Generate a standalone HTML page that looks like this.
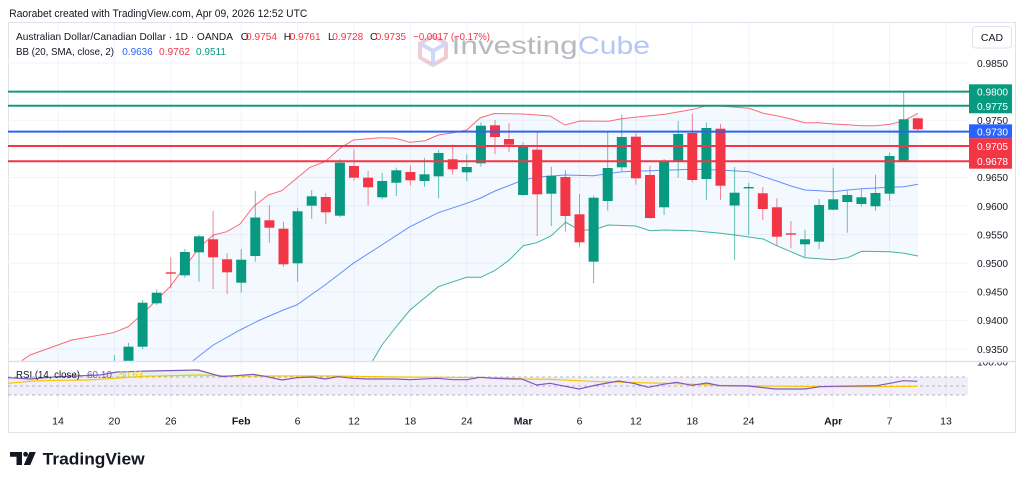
<!DOCTYPE html>
<html><head><meta charset="utf-8"><style>
html,body{margin:0;padding:0;background:#fff;width:1024px;height:484px;overflow:hidden}
svg{display:block}
text{font-family:"Liberation Sans",sans-serif}
</style></head><body>
<svg width="1024" height="484" viewBox="0 0 1024 484" xmlns="http://www.w3.org/2000/svg">
<defs>
<clipPath id="cm"><rect x="8" y="23" width="960" height="338.5"/></clipPath>
<clipPath id="cr"><rect x="8" y="362.5" width="960" height="46"/></clipPath>
<clipPath id="cl"><rect x="968" y="362.5" width="48" height="20"/></clipPath>
</defs>
<text x="9.3" y="17" font-size="11" fill="#131722" textLength="298" lengthAdjust="spacingAndGlyphs">Raorabet created with TradingView.com, Apr 09, 2026 12:52 UTC</text>
<rect x="8.5" y="22.5" width="1007" height="410" fill="none" stroke="#e0e3eb"/>
<g stroke="#f0f3fa" stroke-width="1">
<line x1="58" y1="23" x2="58" y2="408"/><line x1="114.4" y1="23" x2="114.4" y2="408"/><line x1="170.8" y1="23" x2="170.8" y2="408"/><line x1="241.2" y1="23" x2="241.2" y2="408"/><line x1="297.6" y1="23" x2="297.6" y2="408"/><line x1="354" y1="23" x2="354" y2="408"/><line x1="410.4" y1="23" x2="410.4" y2="408"/><line x1="466.8" y1="23" x2="466.8" y2="408"/><line x1="523.1" y1="23" x2="523.1" y2="408"/><line x1="579.5" y1="23" x2="579.5" y2="408"/><line x1="635.9" y1="23" x2="635.9" y2="408"/><line x1="692.3" y1="23" x2="692.3" y2="408"/><line x1="748.7" y1="23" x2="748.7" y2="408"/><line x1="833.2" y1="23" x2="833.2" y2="408"/><line x1="889.6" y1="23" x2="889.6" y2="408"/><line x1="946" y1="23" x2="946" y2="408"/>
<line x1="8" y1="63" x2="968" y2="63"/><line x1="8" y1="91.6" x2="968" y2="91.6"/><line x1="8" y1="120.2" x2="968" y2="120.2"/><line x1="8" y1="148.8" x2="968" y2="148.8"/><line x1="8" y1="177.4" x2="968" y2="177.4"/><line x1="8" y1="206" x2="968" y2="206"/><line x1="8" y1="234.6" x2="968" y2="234.6"/><line x1="8" y1="263.2" x2="968" y2="263.2"/><line x1="8" y1="291.8" x2="968" y2="291.8"/><line x1="8" y1="320.4" x2="968" y2="320.4"/><line x1="8" y1="349" x2="968" y2="349"/>
</g>
<!-- watermark -->
<g opacity="0.55">
<polygon points="433,36 446,43.5 446,57.5 433,65 420,57.5 420,43.5" fill="none" stroke="#e6a3b4" stroke-width="4" stroke-linejoin="round"/>
<polyline points="420,43.5 433,51 446,43.5" fill="none" stroke="#a9b8f0" stroke-width="4"/>
<line x1="433" y1="51" x2="433" y2="65" stroke="#a9b8f0" stroke-width="4"/>
</g>
<text x="451.7" y="54" font-size="25" fill="#b9b9bd" textLength="126" lengthAdjust="spacingAndGlyphs">Investing</text>
<text x="578" y="54" font-size="25" fill="#b3c7f7" textLength="72" lengthAdjust="spacingAndGlyphs">Cube</text>
<g clip-path="url(#cm)">
<polygon fill="#2196f3" fill-opacity="0.055" points="21.7,360.7 30,355 71.7,340 113.3,332.7 128.3,326.7 143.3,313 156.7,300 170,286.7 185,266.7 200,246.7 213.3,235 226.7,231.7 240,224 253.3,206.7 268.3,195 281.7,190.7 296.7,178.3 310,167.3 325,161.7 340,148.3 353.3,140 380,137.7 395,138.3 410,142.3 425,140.7 438.3,135 453.3,132.7 466.7,130 480,118 494,113.5 523.3,114 550,116 565,125 580,121 608.3,121.3 621.7,118.7 650,115.7 665,114.3 693.3,109.3 706.7,105.7 720,106 749.3,108.3 763.3,113.3 776.7,115.7 791,119 805,122.7 819,122.7 833.3,124 847.7,124.7 861.7,125.7 875.7,125.7 890,124.3 904,120.7 918,113.3 918,256 904,253.3 890,251.7 861.7,251.3 847.7,257.7 833.3,259.7 819,258.7 805,257.7 791,251.7 776.7,245.7 763.3,239 734.7,235 720.7,233.3 693.3,230.7 664.3,230 650,230.7 635.7,226 608,225 593.7,230 579.3,230 565.7,222.3 551,236 536.7,242.7 523.3,245.7 509.3,260 495,270.5 480.7,277.3 466.7,277.3 453.3,281.7 438.3,286.7 424.3,298.3 410,310 396,327 382,345 372,362 21.7,362"/>
<polyline fill="none" stroke="#f7525f" stroke-opacity="0.85" stroke-width="1" points="21.7,360.7 30,355 71.7,340 113.3,332.7 128.3,326.7 143.3,313 156.7,300 170,286.7 185,266.7 200,246.7 213.3,235 226.7,231.7 240,224 253.3,206.7 268.3,195 281.7,190.7 296.7,178.3 310,167.3 325,161.7 340,148.3 353.3,140 380,137.7 395,138.3 410,142.3 425,140.7 438.3,135 453.3,132.7 466.7,130 480,118 494,113.5 523.3,114 550,116 565,125 580,121 608.3,121.3 621.7,118.7 650,115.7 665,114.3 693.3,109.3 706.7,105.7 720,106 749.3,108.3 763.3,113.3 776.7,115.7 791,119 805,122.7 819,122.7 833.3,124 847.7,124.7 861.7,125.7 875.7,125.7 890,124.3 904,120.7 918,113.3"/>
<polyline fill="none" stroke="#2962ff" stroke-opacity="0.7" stroke-width="1" points="192.7,361 213.3,345 240,330 260,320 283.3,310 296.7,305 325,285 353.3,263.3 381.7,245 410,226.7 438.3,212.7 466.7,203.3 480.7,198 495,191 523.3,180 536.7,177.3 565,175 593.3,175.7 621.7,171.7 650,170.7 693.3,169.3 720,170 749.3,171.7 763.3,176.7 776.7,181 791,186 805,190 819,190.7 833.3,191.7 847.7,190 861.7,188.7 890,187.3 904,186.7 918,184.3"/>
<polyline fill="none" stroke="#089981" stroke-opacity="0.75" stroke-width="1" points="372,362 382,345 396,327 410,310 424.3,298.3 438.3,286.7 453.3,281.7 466.7,277.3 480.7,277.3 495,270.5 509.3,260 523.3,245.7 536.7,242.7 551,236 565.7,222.3 579.3,230 593.7,230 608,225 635.7,226 650,230.7 664.3,230 693.3,230.7 720.7,233.3 734.7,235 763.3,239 776.7,245.7 791,251.7 805,257.7 819,258.7 833.3,259.7 847.7,257.7 861.7,251.3 890,251.7 904,253.3 918,256"/>
<!-- green candles -->
<g stroke="#089981" stroke-opacity="0.6" stroke-width="1">
<line x1="114.4" y1="355" x2="114.4" y2="395"/><line x1="128.5" y1="342.7" x2="128.5" y2="385"/><line x1="142.6" y1="300" x2="142.6" y2="349.3"/><line x1="156.7" y1="289.3" x2="156.7" y2="305"/><line x1="184.9" y1="249" x2="184.9" y2="277.7"/><line x1="199" y1="235" x2="199" y2="281.7"/><line x1="241.2" y1="249" x2="241.2" y2="292.7"/><line x1="255.3" y1="191" x2="255.3" y2="261.7"/><line x1="297.6" y1="208.3" x2="297.6" y2="281.7"/><line x1="311.7" y1="190" x2="311.7" y2="219"/><line x1="339.9" y1="159" x2="339.9" y2="217.3"/><line x1="382.2" y1="173" x2="382.2" y2="199.3"/><line x1="396.3" y1="167.7" x2="396.3" y2="196"/><line x1="424.5" y1="157.7" x2="424.5" y2="186.7"/><line x1="438.6" y1="150" x2="438.6" y2="198.3"/><line x1="466.8" y1="154.3" x2="466.8" y2="181"/><line x1="480.9" y1="122.3" x2="480.9" y2="166.7"/><line x1="523.1" y1="142.3" x2="523.1" y2="196"/><line x1="551.3" y1="166.7" x2="551.3" y2="226"/><line x1="593.6" y1="195.7" x2="593.6" y2="283.3"/><line x1="607.7" y1="132.3" x2="607.7" y2="210.7"/><line x1="621.8" y1="114.7" x2="621.8" y2="171"/><line x1="664.1" y1="159" x2="664.1" y2="215"/><line x1="678.2" y1="121" x2="678.2" y2="177.7"/><line x1="706.4" y1="122.3" x2="706.4" y2="200"/><line x1="734.6" y1="167" x2="734.6" y2="260"/><line x1="748.7" y1="183" x2="748.7" y2="235"/><line x1="805" y1="229.7" x2="805" y2="257.3"/><line x1="819.1" y1="199" x2="819.1" y2="249"/><line x1="833.2" y1="167.7" x2="833.2" y2="210"/><line x1="847.3" y1="190.7" x2="847.3" y2="232.7"/><line x1="861.4" y1="189.3" x2="861.4" y2="206.7"/><line x1="875.5" y1="174.7" x2="875.5" y2="210.7"/><line x1="889.6" y1="152.7" x2="889.6" y2="200.7"/><line x1="903.7" y1="91.7" x2="903.7" y2="161"/>
</g>
<g fill="#089981">
<rect x="109.4" y="365" width="10" height="25"/><rect x="123.5" y="346.7" width="10" height="33.3"/><rect x="137.6" y="302.7" width="10" height="44"/><rect x="151.7" y="292.7" width="10" height="10.6"/><rect x="179.9" y="252" width="10" height="23.3"/><rect x="194" y="236.3" width="10" height="16"/><rect x="236.2" y="259.7" width="10" height="23"/><rect x="250.3" y="217.5" width="10" height="38.5"/><rect x="292.6" y="211.3" width="10" height="52"/><rect x="306.7" y="196.3" width="10" height="9.4"/><rect x="334.9" y="162.7" width="10" height="53"/><rect x="377.2" y="181" width="10" height="16.3"/><rect x="391.3" y="170.3" width="10" height="12.4"/><rect x="419.5" y="174.3" width="10" height="6.7"/><rect x="433.6" y="153" width="10" height="23.3"/><rect x="461.8" y="167" width="10" height="5.3"/><rect x="475.9" y="125.7" width="10" height="37.6"/><rect x="518.1" y="147" width="10" height="48"/><rect x="546.3" y="175.7" width="10" height="18"/><rect x="588.6" y="197.7" width="10" height="64"/><rect x="602.7" y="168" width="10" height="33"/><rect x="616.8" y="137" width="10" height="30.3"/><rect x="659.1" y="161.3" width="10" height="46"/><rect x="673.2" y="134" width="10" height="27.3"/><rect x="701.4" y="128" width="10" height="51"/><rect x="729.6" y="192.7" width="10" height="12.8"/><rect x="743.7" y="187" width="10" height="1.4"/><rect x="800" y="239.3" width="10" height="5"/><rect x="814.1" y="205" width="10" height="36.7"/><rect x="828.2" y="199.3" width="10" height="10.4"/><rect x="842.3" y="195" width="10" height="7"/><rect x="856.4" y="197.3" width="10" height="6.7"/><rect x="870.5" y="193" width="10" height="13.3"/><rect x="884.6" y="156" width="10" height="37.7"/><rect x="898.7" y="119.3" width="10" height="41.4"/>
</g>
<!-- red candles -->
<g stroke="#f23645" stroke-opacity="0.6" stroke-width="1">
<line x1="170.8" y1="257.3" x2="170.8" y2="288.3"/><line x1="213.1" y1="211" x2="213.1" y2="289"/><line x1="227.1" y1="253.3" x2="227.1" y2="294"/><line x1="269.4" y1="205" x2="269.4" y2="242.7"/><line x1="283.5" y1="221.7" x2="283.5" y2="266.7"/><line x1="325.8" y1="193.3" x2="325.8" y2="224"/><line x1="354" y1="149.3" x2="354" y2="180.7"/><line x1="368.1" y1="171" x2="368.1" y2="205.7"/><line x1="410.4" y1="165.7" x2="410.4" y2="185.3"/><line x1="452.7" y1="144.3" x2="452.7" y2="174.7"/><line x1="495" y1="120" x2="495" y2="154.3"/><line x1="509" y1="123.3" x2="509" y2="152"/><line x1="537.2" y1="132.3" x2="537.2" y2="236"/><line x1="565.4" y1="170" x2="565.4" y2="231.7"/><line x1="579.5" y1="194" x2="579.5" y2="246.7"/><line x1="635.9" y1="133.3" x2="635.9" y2="184.7"/><line x1="650" y1="165.7" x2="650" y2="218.7"/><line x1="692.3" y1="114" x2="692.3" y2="182.3"/><line x1="720.5" y1="123.7" x2="720.5" y2="200"/><line x1="762.8" y1="187.3" x2="762.8" y2="220"/><line x1="776.9" y1="198.3" x2="776.9" y2="246"/><line x1="790.9" y1="221" x2="790.9" y2="248.3"/><line x1="917.8" y1="118" x2="917.8" y2="132.7"/>
</g>
<g fill="#f23645">
<rect x="165.8" y="272.3" width="10" height="1.4"/><rect x="208.1" y="239.3" width="10" height="18"/><rect x="222.1" y="259.3" width="10" height="13"/><rect x="264.4" y="220.3" width="10" height="7.4"/><rect x="278.5" y="228.7" width="10" height="35.6"/><rect x="320.8" y="197" width="10" height="15.3"/><rect x="349" y="166" width="10" height="11.7"/><rect x="363.1" y="177.7" width="10" height="9.6"/><rect x="405.4" y="172" width="10" height="8.3"/><rect x="447.7" y="159.3" width="10" height="10"/><rect x="490" y="125.3" width="10" height="11.7"/><rect x="504" y="139" width="10" height="5.7"/><rect x="532.2" y="149.7" width="10" height="44.6"/><rect x="560.4" y="177" width="10" height="39"/><rect x="574.5" y="214.3" width="10" height="28"/><rect x="630.9" y="136.7" width="10" height="41.6"/><rect x="645" y="175" width="10" height="43"/><rect x="687.3" y="133" width="10" height="47"/><rect x="715.5" y="128.7" width="10" height="57"/><rect x="757.8" y="193.3" width="10" height="15.7"/><rect x="771.9" y="207.3" width="10" height="29.4"/><rect x="785.9" y="233.3" width="10" height="1.4"/><rect x="912.8" y="118.3" width="10" height="11"/>
</g>
</g>
<!-- horizontal levels -->
<g stroke-width="2">
<line x1="8" y1="91.6" x2="969" y2="91.6" stroke="#17977b"/>
<line x1="8" y1="105.8" x2="969" y2="105.8" stroke="#17977b"/>
<line x1="8" y1="131.6" x2="969" y2="131.6" stroke="#2e62f5"/>
<line x1="8" y1="146" x2="969" y2="146" stroke="#f23645"/>
<line x1="8" y1="161.2" x2="969" y2="161.2" stroke="#f23645"/>
</g>
<line x1="8" y1="361.5" x2="1016" y2="361.5" stroke="#e0e3eb" stroke-width="1.5"/>
<!-- RSI pane -->
<g clip-path="url(#cr)">
<rect x="8" y="377" width="960" height="18" fill="#7e57c2" fill-opacity="0.1"/>
<g stroke="#9598a1" stroke-opacity="0.7" stroke-width="1" stroke-dasharray="3,3">
<line x1="8" y1="377" x2="968" y2="377"/><line x1="8" y1="386" x2="968" y2="386"/><line x1="8" y1="395" x2="968" y2="395"/>
</g>
<polygon points="100,377 117,372 150,371 198,370 222,376.7 223,377" fill="#4caf50" fill-opacity="0.15"/>
<polyline fill="none" stroke="#f7c600" stroke-width="1.2" points="8,383.3 33,381 58,380.3 87,380 115,378.3 143,376.3 200,375 233,376 333,376 400,377 500,377.7 523,379 550,379.3 600,381.7 666.7,383.3 720,385.3 766.7,386 833.3,386.7 876.7,386.7 917.3,386.3"/>
<polyline fill="none" stroke="#7e57c2" stroke-width="1.2" points="8,377.7 30,379 58,376.7 100,375 117,372 150,371 198,370 222,376.7 253,374.3 267,376.7 282,380 297,377.7 312,377 325,379 338,376.7 353,378.3 367,379 395,379 410,379.7 437,378.3 453,379.7 467,379.7 480,377.3 493,378.3 512,379 521.7,379 536.7,385 550,383.3 579,389 596.7,385 618.3,381 633.3,383.3 648.3,387.3 663.3,384.3 676.7,382.3 691.7,385.3 706.7,383 720,385.7 748.3,386 775,389 805,389 820,386.7 833.3,386.3 876.7,385.7 890,383.3 903.3,380.7 917.3,381.3"/>
</g>
<text x="16" y="378" font-size="10.3" fill="#131722" textLength="64" lengthAdjust="spacingAndGlyphs">RSI (14, close)</text>
<text x="87" y="378" font-size="10.3" fill="#7e57c2" textLength="25" lengthAdjust="spacingAndGlyphs">60.10</text>
<text x="119" y="378" font-size="10.3" fill="#f7c600" textLength="24" lengthAdjust="spacingAndGlyphs">50.63</text>
<g clip-path="url(#cl)"><text x="977" y="365.5" font-size="10.5" fill="#131722" textLength="31" lengthAdjust="spacingAndGlyphs">100.00</text></g>
<!-- price axis -->
<rect x="972.5" y="26.5" width="39" height="21.5" rx="3" fill="#fff" stroke="#e0e3eb"/>
<text x="992" y="41" font-size="10.5" fill="#131722" text-anchor="middle">CAD</text>
<g font-size="10.5" fill="#131722">
<text x="977" y="66.8" textLength="31" lengthAdjust="spacingAndGlyphs">0.9850</text>
<text x="977" y="124" textLength="31" lengthAdjust="spacingAndGlyphs">0.9750</text>
<text x="977" y="181.2" textLength="31" lengthAdjust="spacingAndGlyphs">0.9650</text>
<text x="977" y="209.8" textLength="31" lengthAdjust="spacingAndGlyphs">0.9600</text>
<text x="977" y="238.4" textLength="31" lengthAdjust="spacingAndGlyphs">0.9550</text>
<text x="977" y="267" textLength="31" lengthAdjust="spacingAndGlyphs">0.9500</text>
<text x="977" y="295.6" textLength="31" lengthAdjust="spacingAndGlyphs">0.9450</text>
<text x="977" y="324.2" textLength="31" lengthAdjust="spacingAndGlyphs">0.9400</text>
<text x="977" y="352.8" textLength="31" lengthAdjust="spacingAndGlyphs">0.9350</text>
</g>
<rect x="969" y="84.3" width="43" height="29" fill="#089981"/>
<rect x="969" y="124.3" width="43" height="14" fill="#2962ff"/>
<rect x="969" y="138.3" width="43" height="30.4" fill="#f23645"/>
<g font-size="10.5" fill="#fff">
<text x="977" y="95.4" textLength="31" lengthAdjust="spacingAndGlyphs">0.9800</text>
<text x="977" y="109.8" textLength="31" lengthAdjust="spacingAndGlyphs">0.9775</text>
<text x="977" y="135.3" textLength="31" lengthAdjust="spacingAndGlyphs">0.9730</text>
<text x="977" y="150" textLength="31" lengthAdjust="spacingAndGlyphs">0.9705</text>
<text x="977" y="165" textLength="31" lengthAdjust="spacingAndGlyphs">0.9678</text>
</g>
<!-- time axis -->
<g font-size="10.5" fill="#131722" text-anchor="middle">
<text x="58" y="424.5">14</text><text x="114.4" y="424.5">20</text><text x="170.8" y="424.5">26</text>
<text x="241.2" y="424.5" font-weight="bold">Feb</text>
<text x="297.6" y="424.5">6</text><text x="354" y="424.5">12</text><text x="410.4" y="424.5">18</text><text x="466.8" y="424.5">24</text>
<text x="523.1" y="424.5" font-weight="bold">Mar</text>
<text x="579.5" y="424.5">6</text><text x="635.9" y="424.5">12</text><text x="692.3" y="424.5">18</text><text x="748.7" y="424.5">24</text>
<text x="833.2" y="424.5" font-weight="bold">Apr</text>
<text x="889.6" y="424.5">7</text><text x="946" y="424.5">13</text>
</g>
<!-- legend -->
<g font-size="10.3">
<text x="16" y="40" fill="#131722" textLength="217" lengthAdjust="spacingAndGlyphs">Australian Dollar/Canadian Dollar · 1D · OANDA</text>
<text x="240.7" y="40" fill="#131722">O</text>
<text x="246" y="40" fill="#f23645" textLength="31" lengthAdjust="spacingAndGlyphs">0.9754</text>
<text x="283.7" y="40" fill="#131722">H</text>
<text x="289.7" y="40" fill="#f23645" textLength="31" lengthAdjust="spacingAndGlyphs">0.9761</text>
<text x="328" y="40" fill="#131722">L</text>
<text x="332.3" y="40" fill="#f23645" textLength="31" lengthAdjust="spacingAndGlyphs">0.9728</text>
<text x="370" y="40" fill="#131722">C</text>
<text x="375.7" y="40" fill="#f23645" textLength="30.3" lengthAdjust="spacingAndGlyphs">0.9735</text>
<text x="413.3" y="40" fill="#f23645" textLength="76.7" lengthAdjust="spacingAndGlyphs">−0.0017 (−0.17%)</text>
<text x="16" y="55" fill="#131722" textLength="98" lengthAdjust="spacingAndGlyphs">BB (20, SMA, close, 2)</text>
<text x="122.3" y="55" fill="#2962ff" textLength="30.4" lengthAdjust="spacingAndGlyphs">0.9636</text>
<text x="159" y="55" fill="#f23645" textLength="31" lengthAdjust="spacingAndGlyphs">0.9762</text>
<text x="196" y="55" fill="#089981" textLength="30" lengthAdjust="spacingAndGlyphs">0.9511</text>
</g>
<!-- TradingView logo -->
<g fill="#131722">
<path d="M10 452 H22 V465 H16.5 V456.8 H10 Z"/>
<circle cx="25.6" cy="454.3" r="2.4"/>
<polygon points="29.5,452 35.8,452 30.3,465 23.8,465"/>
</g>
<text x="42.7" y="464.5" font-size="17" font-weight="bold" fill="#131722" textLength="102" lengthAdjust="spacingAndGlyphs">TradingView</text>
</svg>
</body></html>
